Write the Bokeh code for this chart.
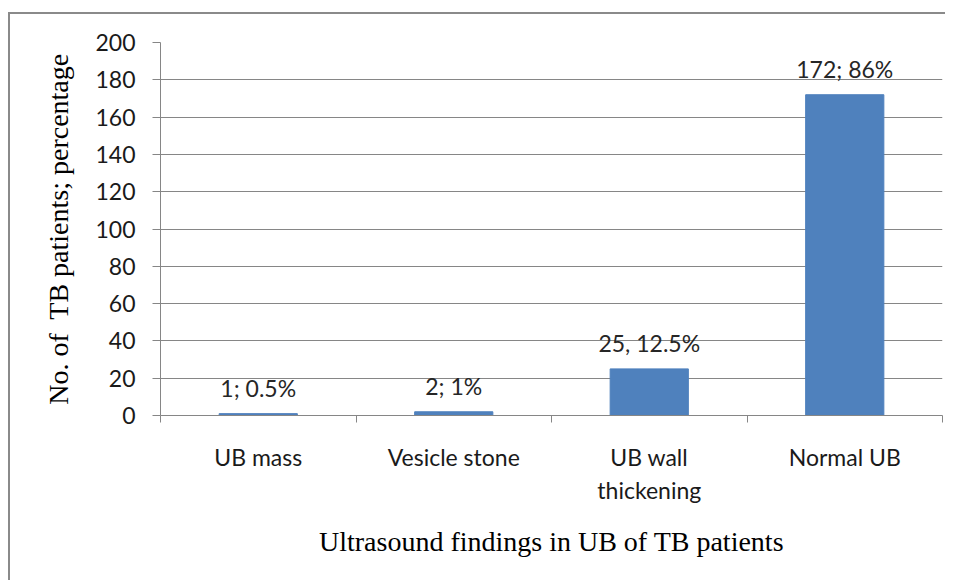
from bokeh.plotting import figure
from bokeh.models import FixedTicker, ColumnDataSource, Range1d
from bokeh.core.properties import value
from bokeh.embed import file_html
from bokeh.resources import INLINE
import numpy as np

categories = ["UB mass", "Vesicle stone", "UB wall\nthickening", "Normal UB"]
counts = [1, 2, 25, 172]
bar_labels = ["1; 0.5%", "2; 1%", "25, 12.5%", "172; 86%"]
y_ticks = [0, 20, 40, 60, 80, 100, 120, 140, 160, 180, 200]

x = np.arange(len(categories)) + 0.5
src = ColumnDataSource(dict(x=x, top=counts, label=bar_labels))

GRAY = "#868686"
SANS = "Lato"
SERIF = "Liberation Serif"

p = figure(width=935, height=565, output_backend="svg", toolbar_location=None,
           x_range=Range1d(0, len(categories)), y_range=Range1d(0, 200),
           frame_width=782, frame_height=373,
           min_border_left=150, min_border_right=3, min_border_top=28, min_border_bottom=165)
p.styles = {"border-left": "2px solid #8a8a8a", "border-top": "2px solid #8a8a8a",
            "margin-top": "12px", "margin-left": "8px"}
p.outline_line_color = None
p.background_fill_color = "white"
p.border_fill_color = "white"

p.vbar(x="x", top="top", width=0.4, bottom=0, source=src, fill_color="#4F81BD", line_color="#4F81BD")
p.text(x="x", y="top", text="label", source=src, text_align="center", text_baseline="bottom",
       y_offset=-12, text_font=value(SANS), text_font_size="23px", text_color="#262626")

p.xgrid.visible = False
p.ygrid.grid_line_color = GRAY
p.ygrid.ticker = FixedTicker(ticks=y_ticks)

ya = p.yaxis[0]
ya.ticker = FixedTicker(ticks=y_ticks)
ya.axis_line_color = GRAY
ya.major_tick_line_color = GRAY
ya.major_tick_out = 8
ya.major_tick_in = 0
ya.minor_tick_line_color = None
ya.major_label_standoff = 17
ya.major_label_text_font = SANS
ya.major_label_text_font_size = "23px"
ya.major_label_text_color = "#1a1a1a"
ya.axis_label = "No. of\u00a0 TB patients; percentage"
ya.axis_label_text_font = SERIF
ya.axis_label_text_font_size = "28px"
ya.axis_label_text_font_style = "normal"
ya.axis_label_text_color = "#000000"
ya.axis_label_standoff = 18

xa = p.xaxis[0]
xa.ticker = FixedTicker(ticks=list(x), minor_ticks=list(range(len(categories) + 1)))
xa.major_label_overrides = {float(xi): c for xi, c in zip(x, categories)}
xa.axis_line_color = GRAY
xa.major_tick_line_color = None
xa.major_tick_out = 0
xa.major_tick_in = 0
xa.minor_tick_line_color = GRAY
xa.minor_tick_out = 7
xa.minor_tick_in = 0
xa.major_label_standoff = 20
xa.major_label_text_font = SANS
xa.major_label_text_font_size = "23px"
xa.major_label_text_color = "#1a1a1a"
xa.axis_label = "Ultrasound findings in UB of TB patients"
xa.axis_label_text_font = SERIF
xa.axis_label_text_font_size = "28px"
xa.axis_label_text_font_style = "normal"
xa.axis_label_text_color = "#000000"
xa.axis_label_standoff = 19

open("out.html", "w").write(file_html(p, INLINE))
